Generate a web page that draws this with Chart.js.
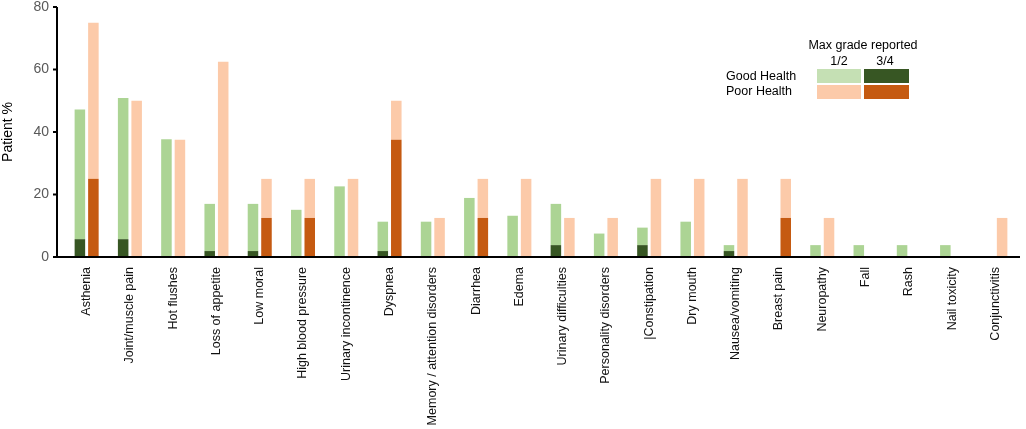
<!DOCTYPE html>
<html>
<head>
<meta charset="utf-8">
<script src="https://cdn.jsdelivr.net/npm/chart.js@4.4.1/dist/chart.umd.min.js"></script>
<style>
  html, body { margin: 0; padding: 0; background: #fff; }
  #wrap { width: 1026px; height: 429px; position: relative; }
</style>
</head>
<body>
<div id="wrap"><canvas id="aeChart"></canvas></div>
<script>
// Adverse events by health status (percent of patients)
const categories = [
    'Asthenia', 'Joint/muscle pain', 'Hot flushes', 'Loss of appetite', 'Low moral',
    'High blood pressure', 'Urinary incontinence', 'Dyspnea', 'Memory / attention disorders',
    'Diarrhea', 'Edema', 'Urinary difficulties', 'Personality disorders', '|Constipation',
    'Dry mouth', 'Nausea/vomiting', 'Breast pain', 'Neuropathy', 'Fall', 'Rash',
    'Nail toxicity', 'Conjunctivitis'
];

// any grade (total bar height)
const goodAnyGrade = [47.2, 50.9, 37.7, 17.0, 17.0, 15.1, 22.6, 11.3, 11.3, 18.9, 13.2,
    17.0, 7.5, 9.4, 11.3, 3.8, 0, 3.8, 3.8, 3.8, 3.8, 0];
const poorAnyGrade = [75, 50, 37.5, 62.5, 25, 25, 25, 50, 12.5, 25, 25,
    12.5, 12.5, 25, 25, 25, 25, 12.5, 0, 0, 0, 12.5];

// grade 3/4 part (dark segment at the bottom)
const goodGrade34 = [5.7, 5.7, 0, 1.9, 1.9, 0, 0, 1.9, 0, 0, 0,
    3.8, 0, 3.8, 0, 1.9, 0, 0, 0, 0, 0, 0];
const poorGrade34 = [25, 0, 0, 0, 12.5, 12.5, 0, 37.5, 0, 12.5, 0,
    0, 0, 0, 0, 0, 12.5, 0, 0, 0, 0, 0];

const yTicks = [0, 20, 40, 60, 80];

const COLORS = {
    good12: '#acd494',
    good34: '#375623',
    poor12: '#fccaa9',
    poor34: '#c55a11',
    legendGood12: '#c5e0b4'
};

const FONT = "'Liberation Sans', Arial, sans-serif";

// light part sits on top of the grade 3/4 part
const goodGrade12 = goodAnyGrade.map((v, i) => v - goodGrade34[i]);
const poorGrade12 = poorAnyGrade.map((v, i) => v - poorGrade34[i]);

const AXIS_SHIFT = 8; // y axis line sits a bit left of the first category

// axis lines, y tick marks and the grade legend
const axesAndLegend = {
    id: 'axesAndLegend',
    afterDraw(chart) {
        const { ctx, chartArea } = chart;
        const yScale = chart.scales.y;
        const x0 = chartArea.left - AXIS_SHIFT;
        ctx.save();
        ctx.strokeStyle = '#000';
        ctx.lineWidth = 2;
        ctx.beginPath();
        ctx.moveTo(x0, chartArea.top);
        ctx.lineTo(x0, chartArea.bottom);
        ctx.lineTo(chartArea.right + 3, chartArea.bottom);
        yTicks.forEach(t => {
            const py = yScale.getPixelForValue(t);
            ctx.moveTo(x0 - 4, py);
            ctx.lineTo(x0, py);
        });
        ctx.stroke();

        // legend
        ctx.fillStyle = '#000';
        ctx.font = '12.5px ' + FONT;
        ctx.textBaseline = 'middle';
        ctx.textAlign = 'center';
        ctx.fillText('Max grade reported', 863, 46);
        ctx.fillText('1/2', 839, 62);
        ctx.fillText('3/4', 885, 62);
        ctx.textAlign = 'left';
        ctx.fillText('Good Health', 726, 77);
        ctx.fillText('Poor Health', 726, 92);

        ctx.fillStyle = COLORS.legendGood12;
        ctx.fillRect(817, 69, 44, 14);
        ctx.fillStyle = COLORS.good34;
        ctx.fillRect(864, 69, 45, 14);
        ctx.fillStyle = COLORS.poor12;
        ctx.fillRect(817, 85, 44, 14);
        ctx.fillStyle = COLORS.poor34;
        ctx.fillRect(864, 85, 45, 14);
        ctx.restore();
    }
};

const barOpts = {
    categoryPercentage: 0.624,
    barPercentage: 0.78,
    borderWidth: 0
};

new Chart(document.getElementById('aeChart'), {
    type: 'bar',
    data: {
        labels: categories,
        datasets: [
            { label: 'Good Health 3/4', data: goodGrade34, stack: 'good', backgroundColor: COLORS.good34, ...barOpts },
            { label: 'Good Health 1/2', data: goodGrade12, stack: 'good', backgroundColor: COLORS.good12, ...barOpts },
            { label: 'Poor Health 3/4', data: poorGrade34, stack: 'poor', backgroundColor: COLORS.poor34, ...barOpts },
            { label: 'Poor Health 1/2', data: poorGrade12, stack: 'poor', backgroundColor: COLORS.poor12, ...barOpts }
        ]
    },
    options: {
        responsive: true,
        maintainAspectRatio: false,
        animation: false,
        layout: {
            padding: { top: 7, right: 9, bottom: 0, left: 0 }
        },
        plugins: {
            legend: { display: false },
            tooltip: { enabled: false }
        },
        scales: {
            x: {
                stacked: true,
                afterFit(scale) {
                    scale.height = 172;
                    scale.paddingTop = 0;
                    scale.paddingBottom = 0;
                },
                grid: { display: false, drawTicks: false },
                border: { display: false },
                ticks: {
                    autoSkip: false,
                    minRotation: 90,
                    maxRotation: 90,
                    padding: 10,
                    color: '#111',
                    font: { family: FONT, size: 12.5 }
                }
            },
            y: {
                stacked: true,
                min: 0,
                max: 80,
                afterFit(scale) {
                    scale.width = 65;
                    scale.paddingTop = 0;
                    scale.paddingBottom = 0;
                },
                afterBuildTicks(scale) {
                    scale.ticks = yTicks.map(v => ({ value: v }));
                },
                grid: { display: false, drawTicks: false },
                border: { display: false },
                ticks: {
                    padding: 16,
                    color: '#595959',
                    font: { family: FONT, size: 14 }
                },
                title: {
                    display: true,
                    text: 'Patient %',
                    color: '#000',
                    padding: 0,
                    font: { family: FONT, size: 14 }
                }
            }
        }
    },
    plugins: [axesAndLegend]
});
</script>
</body>
</html>
